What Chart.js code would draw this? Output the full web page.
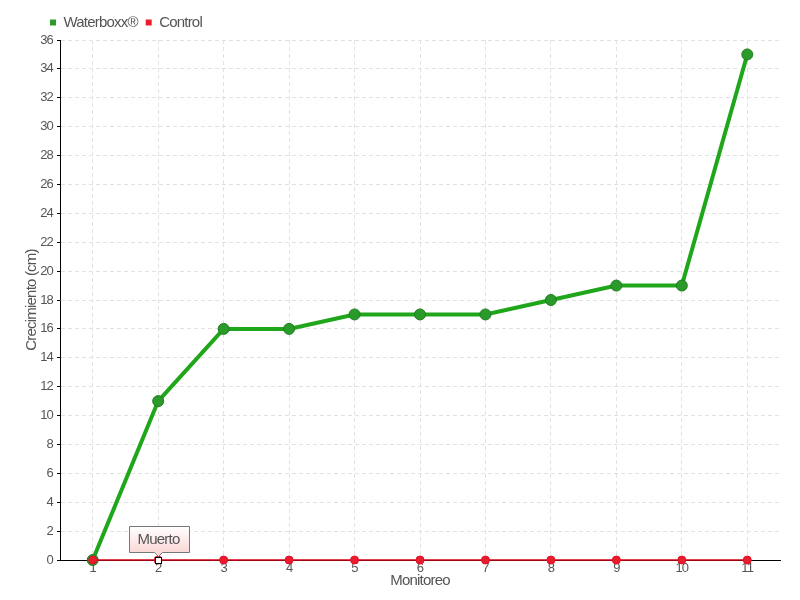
<!DOCTYPE html>
<html>
<head>
<meta charset="utf-8">
<script src="https://cdn.jsdelivr.net/npm/chart.js@4/dist/chart.umd.min.js"></script>
<style>
  html, body { margin: 0; padding: 0; background: #fff; }
</style>
</head>
<body>
<canvas id="growthChart" width="800" height="600"></canvas>
<script>
(function () {

  // data
  var monitoreo = ['1', '2', '3', '4', '5', '6', '7', '8', '9', '10', '11'];
  var waterboxx = [0, 11, 16, 16, 17, 17, 17, 18, 19, 19, 35];
  var control   = [0, 0, 0, 0, 0, 0, 0, 0, 0, 0, 0];
  var yMax = 36;
  var yStep = 2;
  var notes = [{ series: 1, index: 1, text: 'Muerto' }];

  var FONT = '"Liberation Sans", sans-serif';
  var TEXT = '#555';

  // the original uses a narrow face; tighten the tracking to get close
  var narrowText = {
    id: 'narrowText',
    beforeUpdate: function (chart) { chart.ctx.letterSpacing = '-0.8px'; },
    beforeDraw: function (chart) { chart.ctx.letterSpacing = '-0.8px'; }
  };

  // "Muerto" callout over the control point
  var notePlugin = {
    id: 'notes',
    afterDatasetsDraw: function (chart) {
      var ctx = chart.ctx;
      notes.forEach(function (n) {
        var pt = chart.getDatasetMeta(n.series).data[n.index];
        var x = Math.round(pt.x) + 0.5;
        var y = Math.round(pt.y) + 0.5;
        ctx.save();
        ctx.fillStyle = '#fff';
        ctx.strokeStyle = '#000';
        ctx.lineWidth = 1;
        ctx.fillRect(x - 3, y - 3, 6, 6);
        ctx.strokeRect(x - 3, y - 3, 6, 6);

        ctx.font = '15px ' + FONT;
        var w = Math.round(ctx.measureText(n.text).width + 18);
        var h = 26;
        var bx = Math.round(x - w / 2) + 0.5;
        var by = y - 8 - h;
        var g = ctx.createLinearGradient(0, by, 0, by + h);
        g.addColorStop(0, '#ffffff');
        g.addColorStop(1, '#fbd7d7');
        ctx.beginPath();
        ctx.moveTo(bx, by);
        ctx.lineTo(bx + w, by);
        ctx.lineTo(bx + w, by + h);
        ctx.lineTo(x + 4, by + h);
        ctx.lineTo(x, by + h + 4);
        ctx.lineTo(x - 4, by + h);
        ctx.lineTo(bx, by + h);
        ctx.closePath();
        ctx.fillStyle = g;
        ctx.fill();
        ctx.strokeStyle = '#777';
        ctx.stroke();
        ctx.fillStyle = TEXT;
        ctx.textAlign = 'center';
        ctx.textBaseline = 'middle';
        ctx.fillText(n.text, x, by + h / 2);
        ctx.restore();
      });
    }
  };

  // legend sits over the y axis, not at the canvas edge
  var legendShift = {
    id: 'legendShift',
    afterLayout: function (chart) {
      chart.legend.left = 42;
    }
  };

  var growthChart = new Chart('growthChart', {
    type: 'line',
    data: {
      labels: monitoreo,
      datasets: [
        {
          label: 'Waterboxx®',
          data: waterboxx,
          borderColor: '#1fa61a',
          backgroundColor: '#2a9a2a',
          borderWidth: 4,
          pointRadius: 5.5,
          pointHoverRadius: 5.5,
          pointBackgroundColor: '#2a9a2a',
          pointBorderColor: '#1f7d1f',
          pointBorderWidth: 1,
          tension: 0,
          order: 2,
          clip: false
        },
        {
          label: 'Control',
          data: control,
          borderColor: '#d8021b',
          backgroundColor: '#ec1c2c',
          borderWidth: 1.5,
          pointRadius: 4,
          pointHoverRadius: 4,
          pointBackgroundColor: '#ec1c2c',
          pointBorderColor: '#e0102a',
          pointBorderWidth: 1,
          tension: 0,
          order: 1,
          clip: false
        }
      ]
    },
    options: {
      responsive: false,
      animation: false,
      layout: { padding: { left: 0, right: 20, top: 7, bottom: 0 } },
      plugins: {
        tooltip: { enabled: false },
        legend: {
          position: 'top',
          align: 'start',
          labels: {
            boxWidth: 6,
            boxHeight: 6,
            padding: 8,
            color: TEXT,
            font: { family: FONT, size: 15 },
            sort: function (a, b) { return a.datasetIndex - b.datasetIndex; },
            generateLabels: function (chart) {
              return Chart.defaults.plugins.legend.labels.generateLabels(chart).map(function (l) {
                l.lineWidth = 0;
                return l;
              });
            }
          }
        }
      },
      scales: {
        x: {
          type: 'category',
          offset: true,
          afterFit: function (scale) { scale.height = 40; },
          grid: {
            offset: false,
            color: '#e2e2e2',
            drawTicks: false
          },
          border: { color: '#000', width: 1, dash: [4, 3] },
          ticks: {
            padding: 1,
            color: TEXT,
            font: { family: FONT, size: 13 },
            maxRotation: 0
          },
          title: {
            display: true,
            text: 'Monitoreo',
            color: TEXT,
            font: { family: FONT, size: 15 },
            padding: { top: 0, bottom: 10 }
          }
        },
        y: {
          min: 0,
          max: yMax,
          afterFit: function (scale) { scale.width = 60; },
          grid: {
            color: '#e2e2e2',
            drawTicks: true,
            tickLength: 3,
            tickColor: '#000'
          },
          border: { color: '#000', width: 1, dash: [4, 3] },
          ticks: {
            stepSize: yStep,
            padding: 4,
            color: TEXT,
            font: { family: FONT, size: 13 }
          },
          title: {
            display: true,
            text: 'Crecimiento (cm)',
            color: TEXT,
            font: { family: FONT, size: 15 },
            padding: { top: 23, bottom: 0 }
          }
        }
      }
    },
    plugins: [narrowText, notePlugin, legendShift]
  });

}());
</script>
</body>
</html>
